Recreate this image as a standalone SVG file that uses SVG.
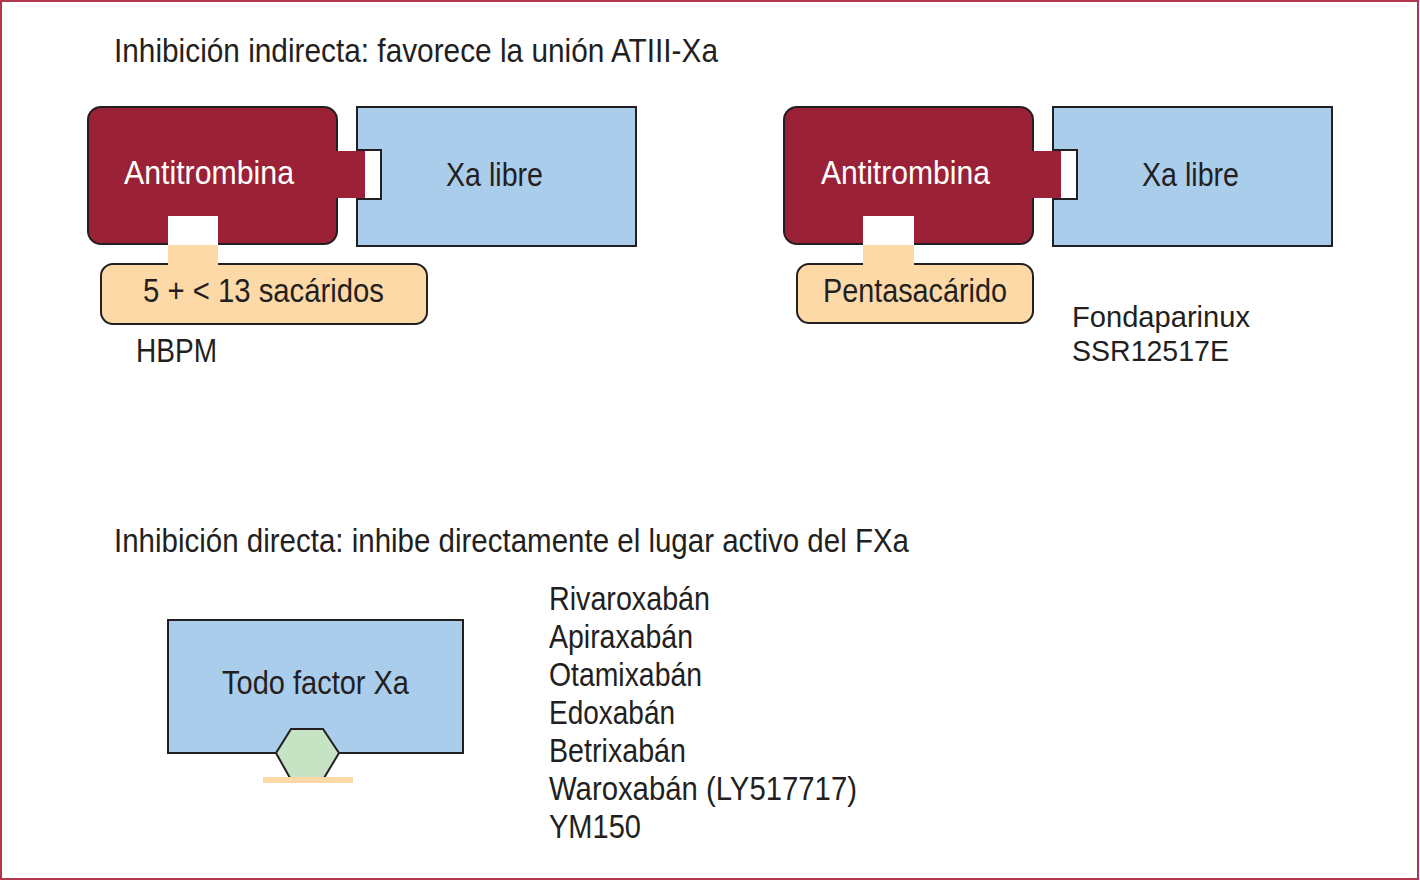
<svg xmlns="http://www.w3.org/2000/svg" width="1420" height="881" viewBox="0 0 1420 881">
<style>
text{font-family:"Liberation Sans Narrow","Liberation Sans",Arial,sans-serif;font-size:33px;fill:#231f20;}
.w{fill:#ffffff;}
.sm{font-size:29px;}
.at{fill:#9b2236;stroke:#231f20;stroke-width:2;}
.xa{fill:#abcdec;stroke:#231f20;stroke-width:2;}
.sac{fill:#fdd9a8;stroke:#231f20;stroke-width:2;}
.tab{fill:#9b2236;}
.btab{fill:#fdd9a8;}
.hole{fill:#ffffff;}
</style>
<rect x="1" y="1" width="1417" height="878" fill="#ffffff" stroke="#b3364e" stroke-width="2"/>
<text x="114" y="62" textLength="604" lengthAdjust="spacingAndGlyphs">Inhibición indirecta: favorece la unión ATIII-Xa</text>
<text x="114" y="552" textLength="795" lengthAdjust="spacingAndGlyphs">Inhibición directa: inhibe directamente el lugar activo del FXa</text>

<g id="xa-libre-1">
<path class="xa" d="M357,107 H636 V246 H357 V199 H381 V150 H357 Z"/>
<text x="446" y="186" textLength="97" lengthAdjust="spacingAndGlyphs">Xa libre</text>
</g>
<g id="antitrombina-1">
<rect class="at" x="88" y="107" width="249" height="137" rx="13"/>
<text class="w" x="124" y="184" textLength="170" lengthAdjust="spacingAndGlyphs">Antitrombina</text>
</g>
<g id="sacaridos-1">
<rect class="sac" x="101" y="264" width="326" height="60" rx="12"/>
<text x="143" y="302" textLength="241" lengthAdjust="spacingAndGlyphs">5 + &lt; 13 sacáridos</text>
</g>
<g id="hbpm">
<text x="136" y="362" textLength="81" lengthAdjust="spacingAndGlyphs">HBPM</text>
</g>

<g id="xa-libre-2">
<path class="xa" d="M1053,107 H1332 V246 H1053 V199 H1077 V150 H1053 Z"/>
<text x="1142" y="186" textLength="97" lengthAdjust="spacingAndGlyphs">Xa libre</text>
</g>
<g id="antitrombina-2">
<rect class="at" x="784" y="107" width="249" height="137" rx="13"/>
<text class="w" x="821" y="184" textLength="169" lengthAdjust="spacingAndGlyphs">Antitrombina</text>
</g>
<g id="pentasacarido">
<rect class="sac" x="797" y="264" width="236" height="59" rx="12"/>
<text x="823" y="302" textLength="184" lengthAdjust="spacingAndGlyphs">Pentasacárido</text>
</g>
<g id="fondaparinux">
<text class="sm" x="1072" y="327" textLength="178" lengthAdjust="spacingAndGlyphs">Fondaparinux</text>
<text class="sm" x="1072" y="361" textLength="157" lengthAdjust="spacingAndGlyphs">SSR12517E</text>
</g>

<g id="connectors">
<rect class="tab" x="336" y="151" width="29" height="47"/>
<rect class="hole" x="168" y="216" width="50" height="29"/>
<rect class="btab" x="168" y="245" width="50" height="20"/>
<rect class="tab" x="1032" y="151" width="29" height="47"/>
<rect class="hole" x="863" y="216" width="51" height="29"/>
<rect class="btab" x="863" y="245" width="51" height="20"/>
</g>

<g id="todo-factor-xa">
<rect class="xa" x="168" y="620" width="295" height="133"/>
<text x="222" y="694" textLength="187" lengthAdjust="spacingAndGlyphs">Todo factor Xa</text>
</g>
<g id="inhibidor">
<polygon points="291,729 323,729 339,753 324,778 290,778 276,753" fill="#c6e3c4" stroke="#231f20" stroke-width="2"/>
<rect x="263" y="777" width="90" height="6" fill="#fdd9a8"/>
</g>

<g id="lista">
<text x="549" y="610" textLength="161" lengthAdjust="spacingAndGlyphs">Rivaroxabán</text>
<text x="549" y="648" textLength="144" lengthAdjust="spacingAndGlyphs">Apiraxabán</text>
<text x="549" y="686" textLength="153" lengthAdjust="spacingAndGlyphs">Otamixabán</text>
<text x="549" y="724" textLength="126" lengthAdjust="spacingAndGlyphs">Edoxabán</text>
<text x="549" y="762" textLength="137" lengthAdjust="spacingAndGlyphs">Betrixabán</text>
<text x="549" y="800" textLength="308" lengthAdjust="spacingAndGlyphs">Waroxabán (LY517717)</text>
<text x="549" y="838" textLength="92" lengthAdjust="spacingAndGlyphs">YM150</text>
</g>
</svg>
